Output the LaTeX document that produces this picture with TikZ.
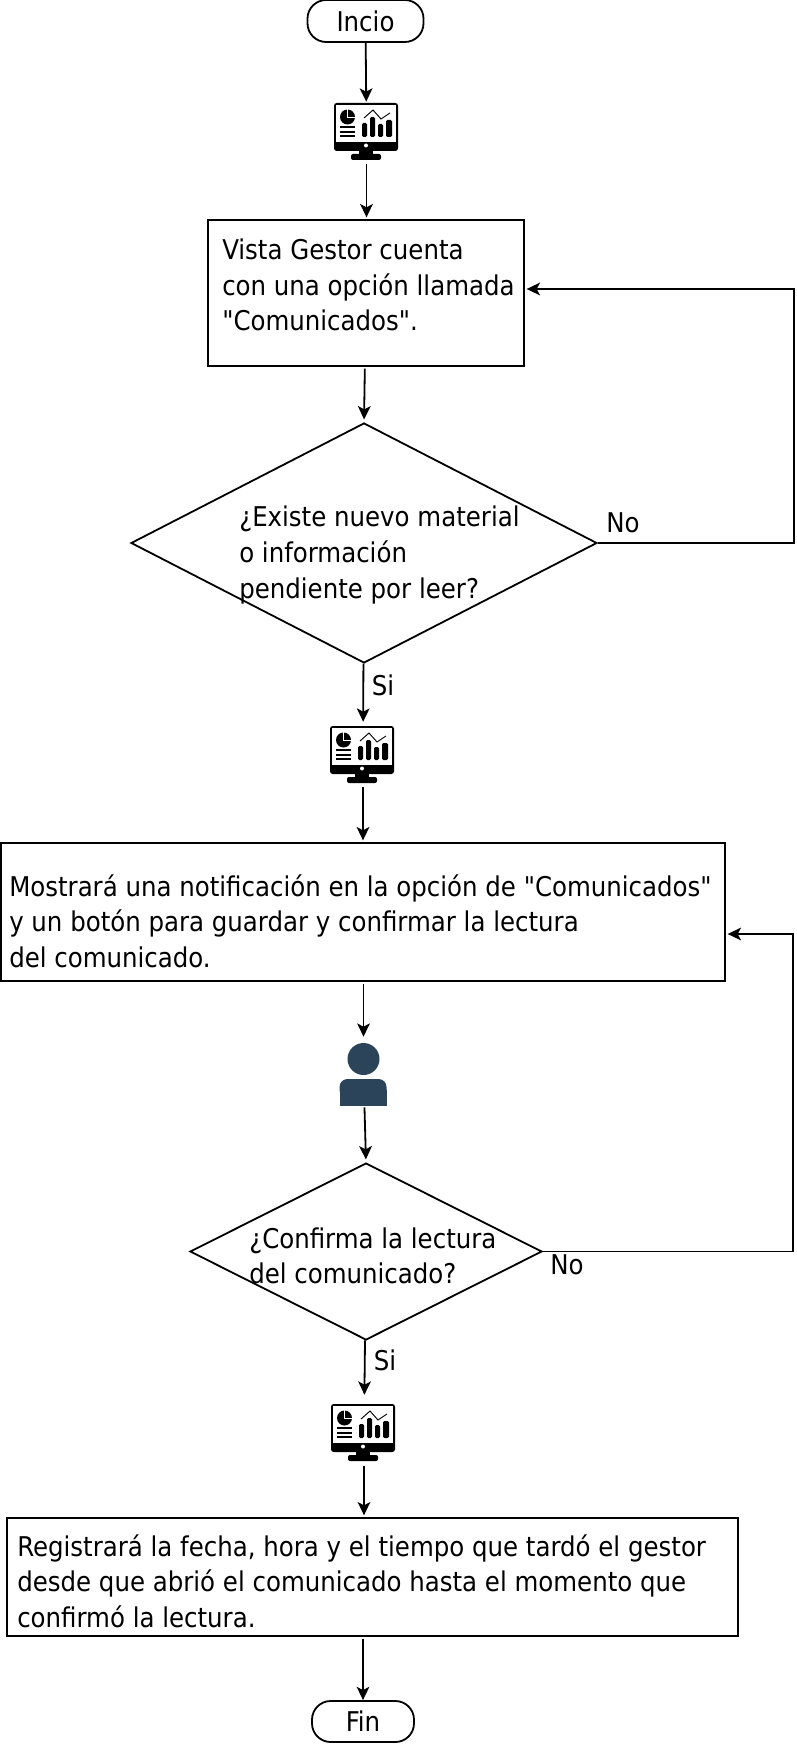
\documentclass[tikz,border=0pt]{standalone}
\usepackage{fontspec}
\setmainfont[Ligatures=TeXOff]{DejaVu Sans Condensed}
\usetikzlibrary{arrows.meta,shapes.geometric}
\definecolor{personblue}{HTML}{2C4459}
\tikzset{
	line/.style={line width=1.35pt},
	conn/.style={line, -{Stealth[length=10pt,width=9.5pt,inset=2.5pt]}},
	flowbox/.style={draw, line, rectangle, inner sep=0pt, outer sep=2pt},
	terminal/.style={draw, line, rectangle, rounded corners=14pt, font=\fontsize{20.4}{24}\selectfont},
	decision/.style={draw, line, diamond, inner sep=0pt},
	slot/.style={inner sep=0pt, minimum width=48pt},
	txt/.style={anchor=west, align=left, inner sep=0pt, font=\fontsize{20.4}{26.7}\selectfont},
	tag/.style={inner sep=0pt, font=\fontsize{20.4}{24}\selectfont},
	monitoricon/.pic={
		\fill[rounded corners=2pt] (0,0) rectangle (64,48);
		\fill[white] (2,2) rectangle (62,39);
		\fill (25,48) rectangle (39,52);
		\fill[rounded corners=1.5pt] (17,51) rectangle (47,57);
		\fill[white] (32,42.5) circle (2);
		\fill (13.5,14) circle (7.5);
		\draw[white, line width=0.6pt] (13.5,5) -- (13.5,14) -- (23,14);
		\foreach \yy in {24,29,33} {\draw[line width=1pt] (6,\yy) -- (21,\yy);}
		\fill[rounded corners=1pt] (28,20) rectangle (33,34);
		\fill[rounded corners=1pt] (36,14) rectangle (41,34);
		\fill[rounded corners=1pt] (44,21) rectangle (49,34);
		\fill[rounded corners=1pt] (52,17) rectangle (58,34);
		\draw[line width=0.7pt] (30,15) -- (39,7) -- (47,16) -- (56,10);
	},
	personicon/.pic={
		\fill[personblue] (0,-19) circle (16);
		\fill[personblue, rounded corners=6pt] (-24,1) rectangle (23,20);
		\fill[personblue] (-24,12) rectangle (23,28);
	},
}

\begin{document}
\begin{tikzpicture}[x=0.75pt, y=-0.75pt]
	\useasboundingbox (0,0) rectangle (796,1744);

	%%%%% NODES %%%%%
	\node[terminal, minimum width=87pt, minimum height=31.5pt] (inicio) at (365.5,21) {Incio};
	\node[slot, minimum height=46.5pt] (mon1) at (366.5,133) {};
	\node[flowbox, minimum width=237pt, minimum height=109.5pt] (box1) at (366,293) {};
	\node[decision, minimum width=349.5pt, minimum height=180pt] (dec1) at (364,543) {};
	\node[slot, minimum height=48.75pt] (mon2) at (363,754.5) {};
	\node[flowbox, minimum width=543pt, minimum height=103.5pt] (box2) at (363,912) {};
	\node[slot, minimum height=52.5pt] (person) at (363.5,1072) {};
	\node[decision, minimum width=264pt, minimum height=132.75pt] (dec2) at (366,1251.5) {};
	\node[slot, minimum height=53.25pt] (mon3) at (364,1430.5) {};
	\node[flowbox, minimum width=548.25pt, minimum height=88.5pt] (box3) at (372.5,1577) {};
	\node[terminal, minimum width=76.5pt, minimum height=30.75pt] (fin) at (363,1721.5) {Fin};

	%%%%% TEXTS %%%%%
	\node[txt] (t1) at (222,285) {Vista Gestor cuenta\\con una opción llamada\\"Comunicados".};
	\node[txt] (t2) at (239,555) {¿Existe nuevo material\\o información\\pendiente por leer?};
	\node[txt] (t3) at (9,921) {Mostrará una notificación en la opción de "Comunicados"\\y un botón para guardar y confirmar la lectura\\del comunicado.};
	\node[txt] (t4) at (249,1256) {¿Confirma la lectura\\del comunicado?};
	\node[txt] (t5) at (17,1581) {Registrará la fecha, hora y el tiempo que tardó el gestor\\desde que abrió el comunicado hasta el momento que\\confirmó la lectura.};

	\node[tag] (no1) at (623,523) {No};
	\node[tag] (si1) at (383,685) {Si};
	\node[tag] (no2) at (567,1265) {No};
	\node[tag] (si2) at (385,1360) {Si};

	%%%%% ICONS %%%%%
	\pic at (334,103) {monitoricon};
	\pic at (330,726) {monitoricon};
	\pic at (331,1404) {monitoricon};
	\pic at (363.5,1078) {personicon};

	%%%%% CONNECTORS %%%%%
	\coordinate (rail1) at (794,289);
	\coordinate (rail2) at (793,934);
	\draw[conn] (inicio) -- (mon1);
	\draw[conn] (mon1) -- (mon1.south |- box1.north);
	\draw[conn, shorten >=2pt] (box1) -- (dec1.north);
	\draw[conn] (dec1) -- (mon2);
	\draw[conn] (mon2) -- (mon2.south |- box2.north);
	\draw[conn] (box2.south -| person.north) -- (person);
	\draw[conn, shorten >=2pt] (person) -- (dec2.north);
	\draw[conn] (dec2) -- (mon3);
	\draw[conn] (mon3) -- (mon3.south |- box3.north);
	\draw[conn] (box3.south -| fin.north) -- (fin);
	\draw[conn] (dec1.east) -| (rail1) -- (box1.east |- rail1);
	\draw[conn] (dec2.east) -| (rail2) -- (box2.east |- rail2);
\end{tikzpicture}
\end{document}
